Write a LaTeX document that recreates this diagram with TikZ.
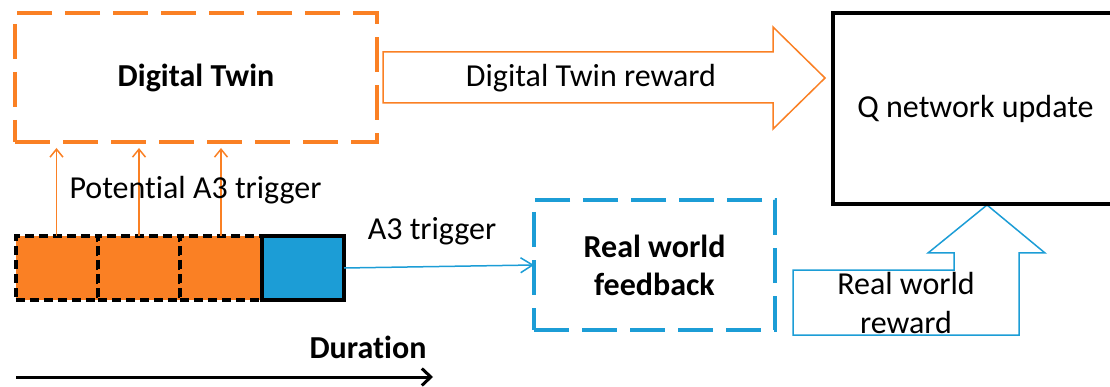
\documentclass[tikz,border=0pt]{standalone}
\usepackage{fontspec}
\setmainfont{Carlito}[Ligatures={NoCommon,NoContextual}]
\usetikzlibrary{arrows.meta}
\definecolor{dtorange}{RGB}{250,128,36}
\definecolor{rwblue}{RGB}{28,157,214}

\begin{document}
\begin{tikzpicture}[x=1pt,y=-1pt,
  every node/.style={inner sep=0pt, outer sep=0pt, font=\fontsize{32}{38}\selectfont},
  boldtxt/.style={font=\fontsize{32}{38}\selectfont\bfseries},
  dtbox/.style={boldtxt, draw=dtorange, line width=4pt, dash pattern=on 35pt off 13pt,
    minimum width=362pt, minimum height=129pt},
  rwbox/.style={boldtxt, draw=rwblue, line width=4pt, dash pattern=on 35pt off 13pt,
    minimum width=241pt, minimum height=130pt, align=center},
  qbox/.style={draw=black, line width=4pt, minimum width=285pt, minimum height=191pt},
  slot/.style={line width=4pt, minimum width=82pt, minimum height=64pt},
  pending/.style={slot, fill=dtorange, draw=black, dash pattern=on 9pt off 5pt},
  fired/.style={slot, fill=rwblue, draw=black},
  potential/.style={draw=dtorange, line width=1.5pt, -{Straight Barb[length=8pt,width=13pt]}},
  realtrig/.style={draw=rwblue, line width=1.5pt, -{Straight Barb[length=12pt,width=15pt]}},
  timeline/.style={draw=black, line width=3pt, -{Straight Barb[length=9pt,width=17pt]}},
  hollowarrow/.style={line width=1.5pt, line join=miter, fill=white}
]
\useasboundingbox (0,0) rectangle (1110,387);
\clip (0,0) rectangle (1110,387);

% reward arrows (hollow block arrows)
\draw[hollowarrow, draw=dtorange]
  (383,52) -- (773,52) -- (773,27) -- (825,78) -- (773,129) -- (773,103) -- (383,103) -- cycle;
\node (dtr) at (591,78) {Digital Twin reward};

\draw[hollowarrow, draw=rwblue]
  (793,270) -- (954,270) -- (954,253) -- (928,253) -- (987,205) -- (1045,253)
  -- (1019,253) -- (1019,335) -- (793,335) -- cycle;
\node[align=center, font=\fontsize{32}{39}\selectfont] (rwr) at (906,303) {Real world\\reward};

% main blocks
\node[dtbox] (dt) at (196,77.5) {Digital Twin};
\node[qbox] (q) at (975.5,108.5) {Q network update};
\node[rwbox] (rw) at (654.5,265) {Real world\\feedback};

% time slots
\node[pending] (s1) at (56.5,268) {};
\node[pending] (s2) at (139,268) {};
\node[pending] (s3) at (221,268) {};
\node[fired]   (s4) at (303,268) {};

% potential triggers into the digital twin
\foreach \s in {s1,s2,s3}
  \draw[potential] (\s.north) -- ([yshift=-6pt]\s.north |- dt.south);
\node (pot) at (195.5,190) {Potential A3 trigger};

% actual trigger to the real world
\draw[realtrig] (s4.east) -- (rw.west);
\node (a3) at (432,231) {A3 trigger};

% time axis
\node[boldtxt] (dur) at (368,347) {Duration};
\coordinate (t0) at (16,377);
\coordinate (t1) at (433,377);
\draw[timeline] (t0) -- (t1);
\end{tikzpicture}
\end{document}
